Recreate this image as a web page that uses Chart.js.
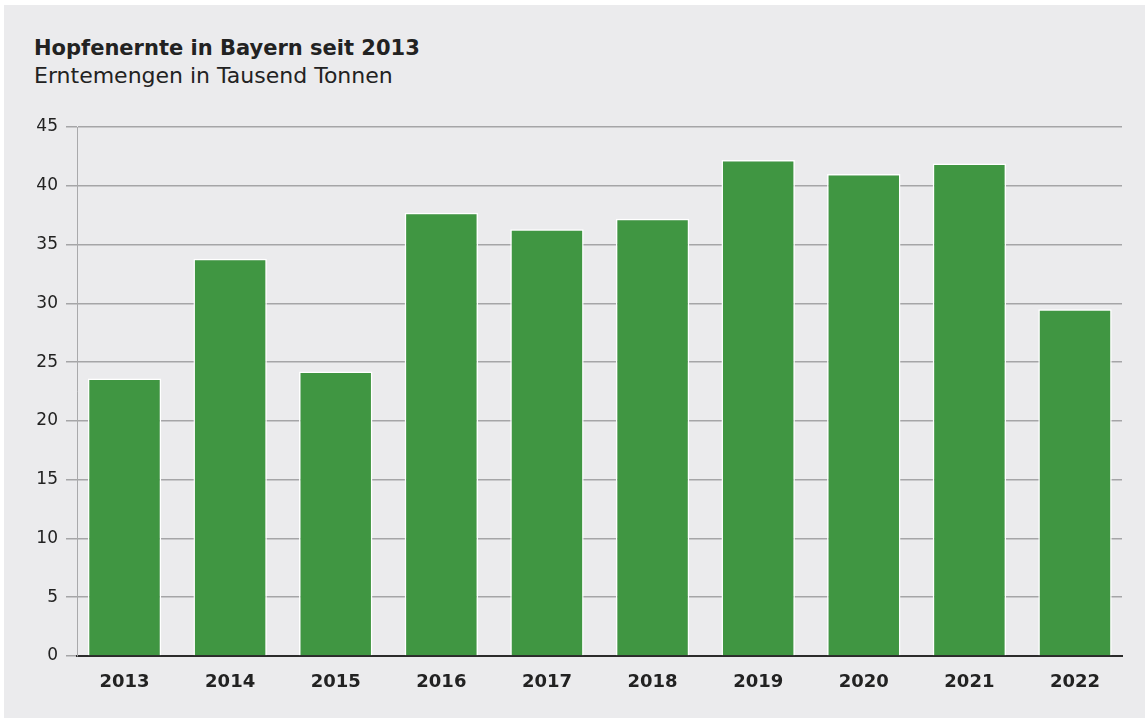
<!DOCTYPE html>
<html lang="de">
<head>
<meta charset="utf-8">
<title>Hopfenernte in Bayern seit 2013</title>
<script src="https://cdn.jsdelivr.net/npm/chart.js@4/dist/chart.umd.min.js"></script>
<style>
    html, body { margin: 0; padding: 0; background: #ffffff; }
    #panel {
        position: absolute; left: 4px; top: 5px; width: 1141px; height: 713px;
        background: #ebebed;
    }
    #wrap { position: absolute; left: 0; top: 0; width: 1145px; height: 720px; }
    .head {
        position: absolute; left: 34px; color: #222222;
        font-family: "DejaVu Sans", sans-serif; white-space: nowrap;
    }
    #title { top: 36px; font-size: 21px; font-weight: bold; }
    #subtitle { top: 63px; font-size: 22px; }
</style>
</head>
<body>
<div id="panel"></div>
<div class="head" id="title">Hopfenernte in Bayern seit 2013</div>
<div class="head" id="subtitle">Erntemengen in Tausend Tonnen</div>
<div id="wrap"><canvas id="hopfen_chart" width="1145" height="720"></canvas></div>

<script>
// Erntemengen in Tausend Tonnen
let years = [2013, 2014, 2015, 2016, 2017, 2018, 2019, 2020, 2021, 2022];
let harvest = [23.6, 33.8, 24.2, 37.7, 36.3, 37.2, 42.2, 41.0, 41.9, 29.5];
let y_ticks = [0, 5, 10, 15, 20, 25, 30, 35, 40, 45];

const font_family = "'DejaVu Sans', sans-serif";

var chart_data = [];
for (var i = 0; i < years.length; i++) {
    chart_data.push({ x: years[i], y: harvest[i] });
}

var ctx = document.getElementById('hopfen_chart').getContext('2d');
var chart = new Chart(ctx, {
    type: 'bar',
    data: {
        datasets: [{
            label: 'Hopfenernte',
            data: chart_data,
            backgroundColor: '#409642',
            borderColor: '#ffffff',
            borderWidth: 1.5,
            categoryPercentage: 1,
            barPercentage: 0.695
        }]
    },
    options: {
        responsive: false,
        animation: false,
        layout: {
            padding: { left: 20, right: 23, top: 127, bottom: 24 }
        },
        plugins: {
            legend: { display: false },
            tooltip: { enabled: false }
        },
        scales: {
            x: {
                type: 'linear',
                bounds: 'data',
                offset: false,
                min: 2012.55,
                max: 2022.445,
                z: 1,
                afterBuildTicks: function (axis) {
                    axis.ticks = years.map(function (v) { return { value: v }; });
                },
                afterFit: function (scale) { scale.height = 40; },
                grid: { display: false, offset: false },
                border: { display: true, color: '#2b2b2b', width: 2 },
                ticks: {
                    color: '#222222',
                    padding: 8,
                    maxRotation: 0,
                    autoSkip: false,
                    font: { family: font_family, size: 18, weight: 'bold' },
                    callback: function (v) { return String(v); }
                }
            },
            y: {
                min: 0,
                max: 45,
                afterBuildTicks: function (axis) {
                    axis.ticks = y_ticks.map(function (v) { return { value: v }; });
                },
                afterFit: function (scale) { scale.width = 57; },
                grid: {
                    color: '#a5a5a7',
                    lineWidth: 1.5,
                    tickLength: 11,
                    drawTicks: true
                },
                border: { display: true, color: '#a9a9ab', width: 1 },
                ticks: {
                    color: '#222222',
                    padding: 8,
                    font: { family: font_family, size: 17 }
                }
            }
        }
    }
});
</script>
</body>
</html>
